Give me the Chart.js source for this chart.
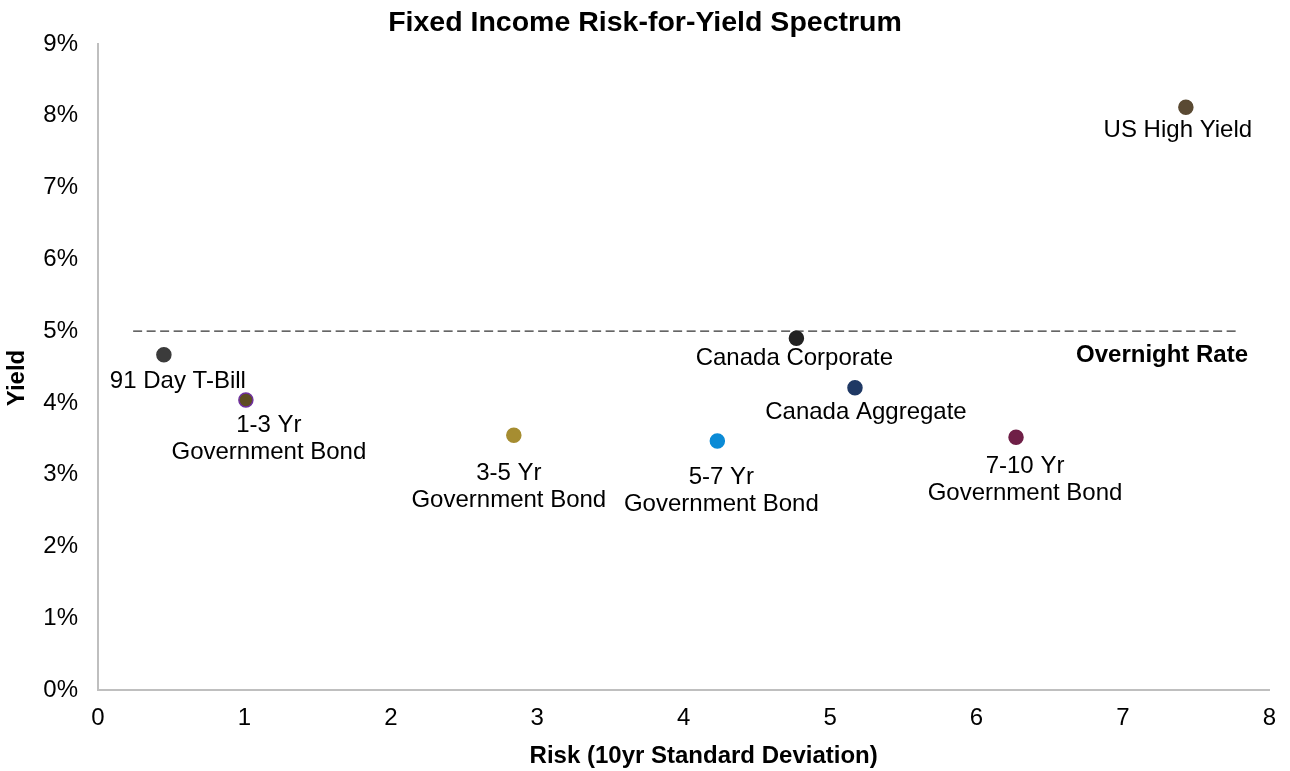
<!DOCTYPE html>
<html>
<head>
<meta charset="utf-8">
<script src="https://cdn.jsdelivr.net/npm/chart.js@4/dist/chart.umd.min.js"></script>
<style>
  html, body { margin: 0; padding: 0; background: #ffffff; }
  #wrap { width: 1290px; height: 771px; position: relative; }
</style>
</head>
<body>
<div id="wrap"><canvas id="c" width="1290" height="771"></canvas></div>
<script>
// ---- data ----
const names = ["91 Day T-Bill", "1-3 Yr\nGovernment Bond", "3-5 Yr\nGovernment Bond", "5-7 Yr\nGovernment Bond",
               "Canada Corporate", "Canada Aggregate", "7-10 Yr\nGovernment Bond", "US High Yield"];
const risk  = [0.45, 1.01, 2.84, 4.23, 4.77, 5.17, 6.27, 7.43];
const yieldPct = [4.67, 4.04, 3.55, 3.47, 4.90, 4.21, 3.52, 8.12];
const overnightRate = 5.0;
const overnightSpan = [0.24, 7.8];
const yTicks = [0, 1, 2, 3, 4, 5, 6, 7, 8, 9];
const xTicks = [0, 1, 2, 3, 4, 5, 6, 7, 8];

// ---- styles ----
const fillColors   = ["#3b3b3b", "#5e4d22", "#a68d31", "#0b8bd6", "#222222", "#1f3864", "#6f1f47", "#5a4a33"];
const borderColors = ["#3b3b3b", "#7030a0", "#a68d31", "#0b8bd6", "#222222", "#1f3864", "#6f1f47", "#5a4a33"];
// label offsets (pixels, relative to the point) for the first line's centre
const labelOffsets = [[14, 27], [23, 25], [-5, 38], [4, 36], [-2, 20], [11, 25], [9, 29], [-8, 23]];
const FONT = "'Liberation Sans', Arial, sans-serif";

const labelPlugin = {
  id: 'pointLabels',
  afterDatasetsDraw(chart) {
    const ctx = chart.ctx;
    const meta = chart.getDatasetMeta(1);
    const area = chart.chartArea;
    ctx.save();
    ctx.fillStyle = '#000';
    ctx.font = "24px " + FONT;
    ctx.textAlign = 'center';
    ctx.textBaseline = 'middle';
    meta.data.forEach((pt, i) => {
      const lines = names[i].split("\n");
      const [dx, dy] = labelOffsets[i];
      lines.forEach((ln, j) => ctx.fillText(ln, pt.x + dx, pt.y + dy + j * 27));
    });
    // Overnight rate label
    const xs = chart.scales.x, ys = chart.scales.y;
    ctx.font = "bold 24px " + FONT;
    ctx.textAlign = 'right';
    ctx.fillText("Overnight Rate", xs.getPixelForValue(overnightSpan[1]) + 8, ys.getPixelForValue(overnightRate) + 24);
    // axis titles
    ctx.textAlign = 'center';
    ctx.fillText("Risk (10yr Standard Deviation)", (area.left + area.right) / 2 + 20, area.bottom + 66);
    ctx.translate(17, (area.top + area.bottom) / 2 + 11);
    ctx.rotate(-Math.PI / 2);
    ctx.fillText("Yield", 0, 0);
    ctx.restore();
  }
};

new Chart(document.getElementById('c'), {
  type: 'scatter',
  data: {
    datasets: [
      {
        label: 'Overnight Rate',
        data: overnightSpan.map(x => ({ x, y: overnightRate })),
        showLine: true,
        borderColor: '#333333',
        borderWidth: 1.4,
        borderDash: [9, 4.5],
        pointRadius: 0,
        order: 2
      },
      {
        label: 'Assets',
        data: risk.map((x, i) => ({ x, y: yieldPct[i] })),
        pointBackgroundColor: fillColors,
        pointBorderColor: borderColors,
        pointBorderWidth: 1.5,
        pointRadius: 7,
        order: 1
      }
    ]
  },
  options: {
    responsive: false,
    animation: false,
    layout: { padding: { left: 20, right: 20, top: 0, bottom: 0 } },
    plugins: {
      legend: { display: false },
      tooltip: { enabled: false },
      title: {
        display: true,
        text: 'Fixed Income Risk-for-Yield Spectrum',
        color: '#000',
        font: { family: FONT, size: 28.5, weight: 'bold' },
        padding: { top: 6.5, bottom: 3.3 }
      }
    },
    scales: {
      x: {
        type: 'linear',
        min: 0, max: 8,
        afterBuildTicks: s => { s.ticks = xTicks.map(v => ({ value: v })); },
        afterFit: s => { s.height = 81; },
        grid: { display: false, drawTicks: false },
        border: { display: true, color: '#bfbfbf', width: 2 },
        ticks: { color: '#000', font: { family: FONT, size: 24 }, padding: 14 }
      },
      y: {
        type: 'linear',
        min: 0, max: 9,
        afterBuildTicks: s => { s.ticks = yTicks.map(v => ({ value: v })); },
        afterFit: s => { s.width = 78; },
        grid: { display: false, drawTicks: false },
        border: { display: true, color: '#bfbfbf', width: 2 },
        ticks: { color: '#000', font: { family: FONT, size: 24 }, padding: 20, callback: v => v + '%' }
      }
    }
  },
  plugins: [labelPlugin]
});
</script>
</body>
</html>
